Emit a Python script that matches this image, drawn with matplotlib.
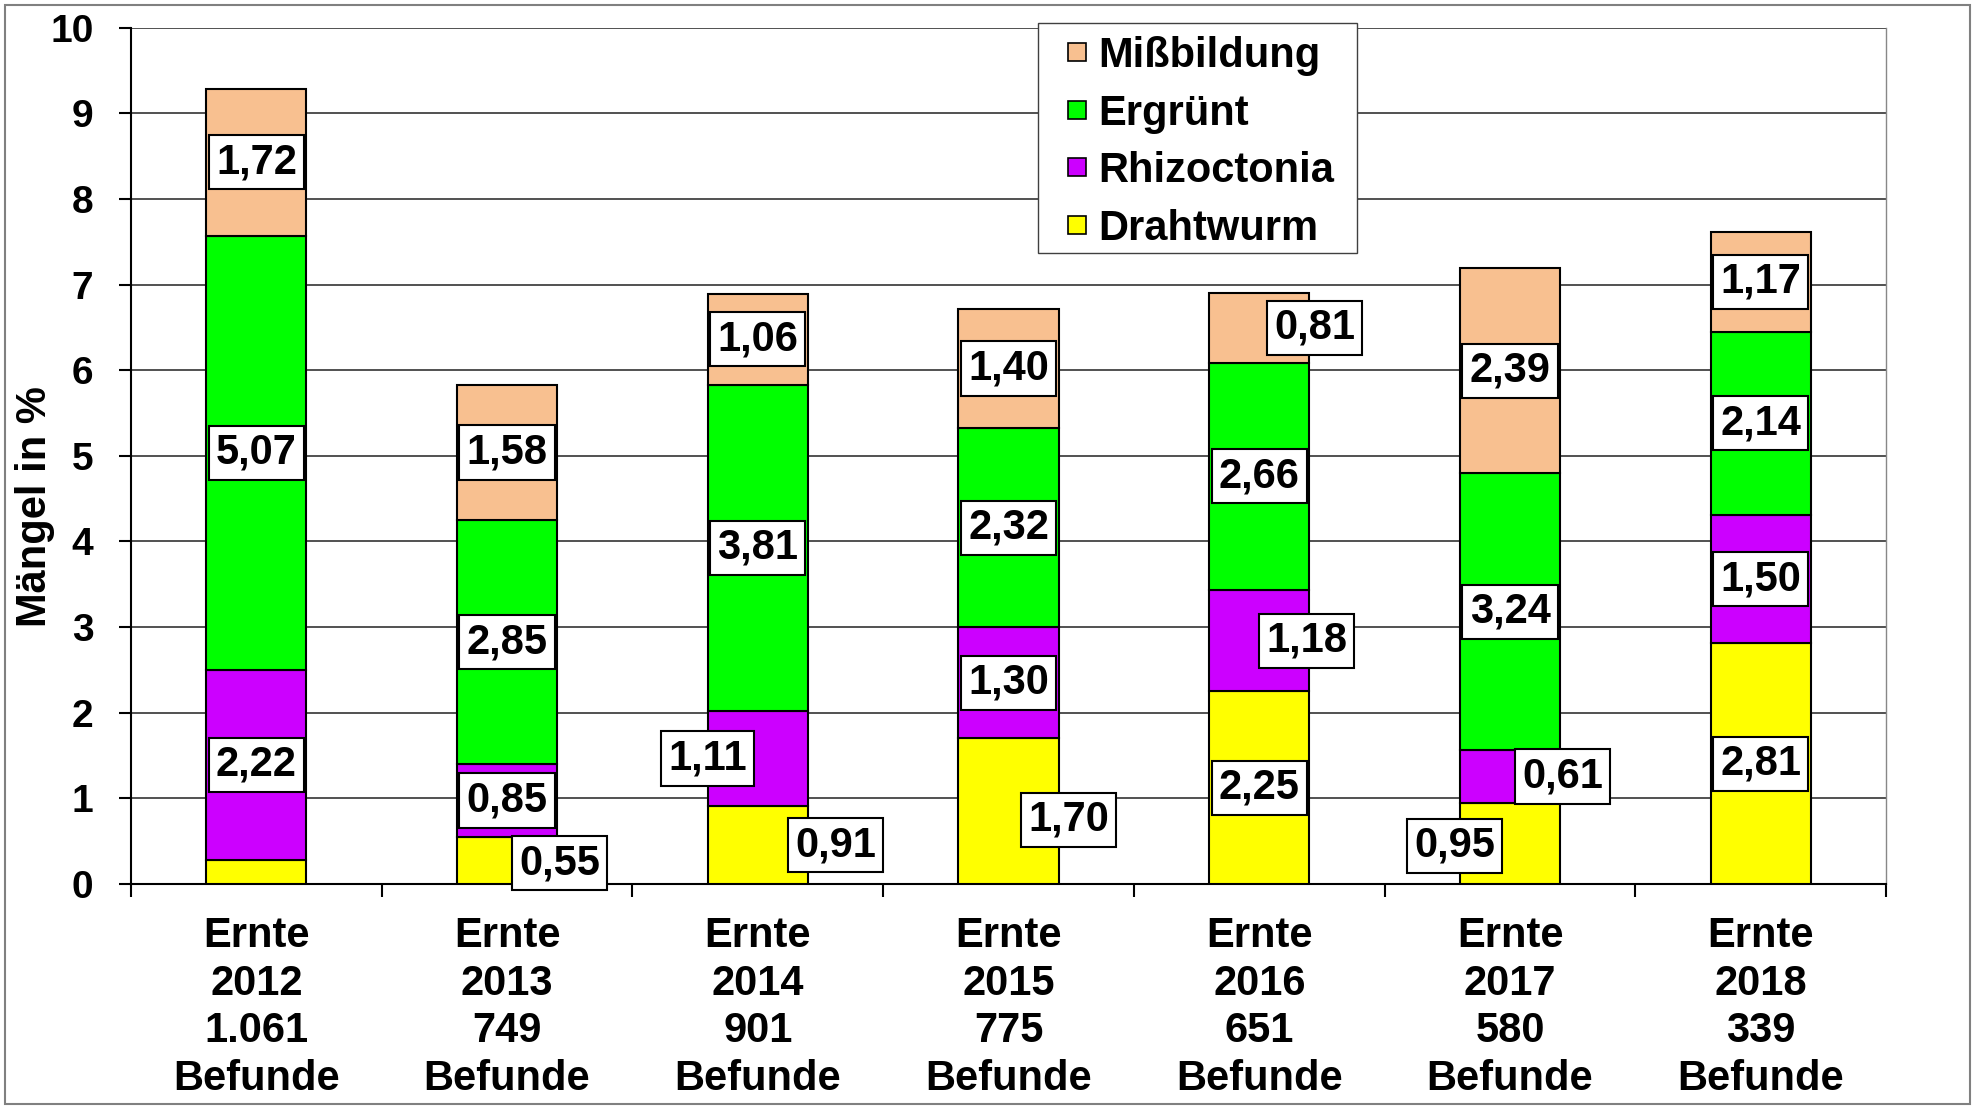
import matplotlib
matplotlib.use('Agg')
import matplotlib.pyplot as plt
import numpy as np
from matplotlib.patches import Rectangle
from matplotlib.lines import Line2D

plt.rcParams['font.family'] = ['Liberation Sans', 'DejaVu Sans']
plt.rcParams['font.weight'] = 'bold'

# data
years = ['2012', '2013', '2014', '2015', '2016', '2017', '2018']
befunde = ['1.061', '749', '901', '775', '651', '580', '339']
drahtwurm = [0.28, 0.55, 0.91, 1.70, 2.25, 0.95, 2.81]
rhizoctonia = [2.22, 0.85, 1.11, 1.30, 1.18, 0.61, 1.50]
ergruent = [5.07, 2.85, 3.81, 2.32, 2.66, 3.24, 2.14]
missbildung = [1.72, 1.58, 1.06, 1.40, 0.81, 2.39, 1.17]

# label shifts (category units / %), None = no label
dx_draht = [None, 0.21, 0.31, 0.24, 0, -0.22, 0]
dy_draht = [0, -0.03, 0, -0.1, 0, -0.03, 0]
dx_rhizo = [0, 0, -0.20, 0, 0.19, 0.21, 0]
dx_erg = [0, 0, 0, 0, 0, 0, 0]
dx_miss = [0, 0, 0, 0, 0.22, 0, 0]

series = [('Drahtwurm', drahtwurm, '#FFFF00', dx_draht, dy_draht),
          ('Rhizoctonia', rhizoctonia, '#CC00FF', dx_rhizo, None),
          ('Ergrünt', ergruent, '#00FF00', dx_erg, None),
          ('Mißbildung', missbildung, '#F8C090', dx_miss, None)]

fig = plt.figure(figsize=(19.75, 11.09), dpi=100)
ax = fig.add_axes([0.0663, 0.2029, 0.955 - 0.0663, 0.975 - 0.2029])

x = np.arange(len(years))
bottom = np.zeros(len(years))
for name, vals, col, dxs, dys in series:
    vals = np.array(vals)
    ax.bar(x, vals, 0.4, bottom=bottom, color=col, edgecolor='black',
           linewidth=1.5, zorder=3, label=name)
    for i in range(len(years)):
        if dxs[i] is None:
            continue
        dy = dys[i] if dys is not None else 0
        ax.text(x[i] + dxs[i], bottom[i] + vals[i] / 2 + dy,
                f'{vals[i]:.2f}'.replace('.', ','),
                ha='center', va='center', fontsize=30, fontweight='bold', zorder=5,
                bbox=dict(boxstyle='square,pad=0.17', facecolor='white',
                          edgecolor='black', linewidth=1.5))
    bottom = bottom + vals

ax.set_xlim(-0.5, len(years) - 0.5)
ax.set_ylim(0, 10)
ax.set_yticks(range(0, 11))
ax.tick_params(axis='y', labelsize=28, length=9, width=1.5, pad=18)
ax.set_xticks(x)
ax.set_xticklabels([f'Ernte\n{y}\n{n}\nBefunde' for y, n in zip(years, befunde)],
                   fontsize=30, fontweight='bold', linespacing=1.25)
ax.tick_params(axis='x', length=0, pad=23)
ax.set_xticks(np.arange(-0.5, len(years)), minor=True)
ax.tick_params(axis='x', which='minor', length=9, width=1.5)
for lab in ax.get_yticklabels():
    lab.set_fontweight('bold')

ax.yaxis.grid(True, color='#333333', linewidth=1.2, zorder=0)
ax.set_axisbelow(True)
ax.spines['left'].set_linewidth(1.5)
ax.spines['bottom'].set_linewidth(1.5)
ax.spines['top'].set_visible(False)
ax.spines['right'].set_color('#888888')
ax.spines['right'].set_linewidth(1)

fig.text(35 / 1975, 0.543, 'Mängel in %', rotation=90, ha='center', va='center',
         fontsize=30, fontweight='bold')

# legend: own frame, square markers
ax.add_patch(Rectangle((1038 / 1975, 1 - 253 / 1109), 319 / 1975, 230 / 1109,
                       transform=fig.transFigure, clip_on=False, facecolor='white',
                       edgecolor='#404040', linewidth=1, zorder=9))
handles = [Line2D([], [], linestyle='none', marker='s', markersize=13,
                  markerfacecolor=s[2], markeredgecolor='black', markeredgewidth=1.2)
           for s in series[::-1]]
leg = ax.legend(handles, [s[0] for s in series[::-1]],
                loc='upper left', bbox_to_anchor=(1060 / 1975, 1 - 36 / 1109),
                bbox_transform=fig.transFigure, borderaxespad=0, borderpad=0,
                prop={'weight': 'bold', 'size': 30},
                handlelength=0.815, handletextpad=0.1,
                labelspacing=0.42, frameon=False)
leg.set_zorder(10)

fig.patches.append(Rectangle((5 / 1975, 5 / 1109), 1 - 10 / 1975, 1 - 10 / 1109,
                             transform=fig.transFigure, fill=False,
                             edgecolor='#808080', linewidth=1.5))

fig.savefig('out.png', dpi=100)
